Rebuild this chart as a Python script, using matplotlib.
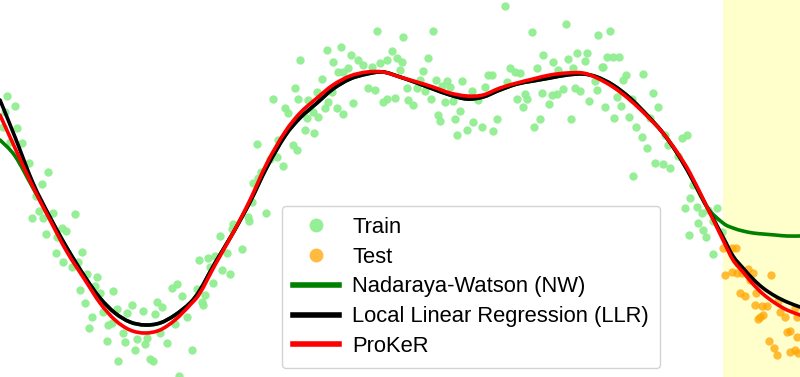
import numpy as np
import matplotlib
matplotlib.use("Agg")
import matplotlib.pyplot as plt
from matplotlib.path import Path
from matplotlib.patches import PathPatch
from matplotlib.lines import Line2D

plt.rcParams['font.family'] = ['Liberation Sans', 'DejaVu Sans']

# ---- data ----
train_x = [0.7,1.5,0.5,1.7,0.3,2.2,1.0,2.9,4.8,4.2,3.6,3.9,3.2,4.3,5.3,7.5,4.6,6.2,6.6,5.7,5.6,6.3,8.2,7.2,7.8,8.7,9.7,9.5,8.0,8.5,9.2,8.9,
           10.0,11.3,10.3,11.7,12.7,13.2,14.3,15.7,16.2,15.5,17.2,17.7,18.2,18.7,10.8,11.2,10.7,12.5,12.3,13.7,14.7,14.5,13.5,16.0,16.7,17.5,11.8,15.0,15.3,17.9,19.2,19.7,19.9,
           30.0,29.5,29.8,27.3,28.5,28.8,25.7,27.8,29.3,29.7,27.7,28.3,27.0,26.1,25.3,25.8,25.2,26.6,24.8,24.9,23.3,23.2,22.0,24.2,22.7,21.5,20.8,21.0,22.2,23.0,21.3,20.5,20.2,20.3,
           32.7,34.1,33.3,35.1,37.7,35.8,36.3,37.2,38.0,38.7,39.2,39.7,33.8,34.3,34.8,32.2,31.7,30.8,31.3,32.8,33.2,30.7,31.8,32.5,33.7,34.3,35.3,36.8,37.5,38.3,38.7,39.5,30.5,31.4,
           40.3,43.3,40.2,40.0,42.8,42.3,40.7,40.8,41.3,41.7,42.0,42.5,43.1,43.6,44.2,44.7,45.0,44.5,45.3,46.2,43.8,44.0,45.5,46.0,45.7,46.7,47.3,47.2,47.8,48.2,48.5,48.8,49.2,49.3,49.7,
           50.5,53.2,56.6,59.8,51.0,51.5,52.0,50.7,53.7,54.3,55.3,55.8,56.8,57.7,58.7,58.5,57.3,51.7,52.5,52.7,52.3,54.2,55.2,55.7,56.3,57.5,58.0,58.9,54.9,54.0,53.4,57.1,59.5,59.7,
           60.2,61.0,60.7,61.3,61.9,60.3,62.6,62.3,64.3,61.7,60.5,62.1,63.2,65.3,65.8,61.4,62.9,63.6,65.0,64.2,64.7,66.5,66.8,68.2,68.7,67.8,65.5,66.3,67.0,63.3,69.3,68.5,69.0,69.7,69.8,68.9,
           70.2,70.3,70.6,70.8,71.3,72.2,71.3,71.7]
train_y = [-9.6,-10.6,-11.2,-12.8,-12.7,-14.3,-14.2,-16.3,-17.2,-18.4,-19.6,-21.1,-21.8,-21.8,-21.3,-21.4,-23.4,-22.8,-23.1,-23.7,-25.3,-26.2,-25.2,-26.7,-26.2,-27.4,-27.7,-28.6,-29.0,-30.3,-31.7,-32.8,
           -29.3,-29.1,-31.2,-30.9,-31.3,-30.5,-31.1,-30.2,-30.7,-31.4,-28.8,-28.4,-29.6,-31.7,-32.5,-32.3,-34.1,-34.2,-33.3,-33.9,-33.8,-34.4,-35.0,-33.3,-34.3,-32.4,-36.1,-35.9,-36.1,-37.6,-35.0,-28.9,-26.0,
           -6.0,-8.8,-9.9,-9.9,-10.8,-11.3,-14.4,-14.0,-14.5,-15.0,-15.7,-16.6,-15.9,-17.2,-18.3,-17.8,-20.2,-21.3,-21.7,-22.1,-22.4,-22.9,-23.6,-24.9,-25.3,-25.6,-25.8,-26.7,-27.0,-27.4,-28.3,-29.5,-30.2,-30.5,
           -5.0,-4.7,-6.2,-5.5,-3.1,-6.0,-6.5,-6.7,-6.3,-6.0,-5.1,-5.8,-7.2,-7.2,-6.8,-7.9,-9.2,-10.0,-11.2,-10.2,-9.2,-11.8,-11.7,-10.8,-10.8,-11.4,-10.3,-8.8,-9.0,-10.2,-9.9,-9.8,-13.0,-13.3,
           -3.7,-3.1,-6.2,-7.0,-5.8,-7.1,-8.8,-10.0,-10.5,-8.8,-8.0,-9.1,-9.9,-8.0,-8.6,-8.1,-8.7,-10.2,-10.1,-8.1,-11.5,-12.1,-11.9,-11.1,-13.5,-13.0,-12.2,-9.1,-10.0,-12.7,-8.7,-7.5,-7.5,-13.1,-11.9,
           -0.6,-3.2,-2.4,-3.5,-6.8,-7.2,-7.3,-8.2,-6.8,-5.5,-6.2,-7.0,-5.9,-5.3,-5.3,-6.1,-6.8,-9.9,-9.4,-9.9,-10.7,-9.3,-9.5,-9.4,-8.9,-8.8,-9.1,-10.1,-10.4,-11.9,-12.7,-11.9,-8.1,-9.0,
           -6.7,-3.1,-5.7,-5.7,-5.7,-6.7,-7.5,-8.0,-7.4,-9.7,-10.7,-10.6,-9.9,-9.3,-10.7,-11.8,-11.7,-12.7,-11.8,-13.7,-14.8,-13.5,-14.5,-13.8,-13.5,-15.6,-16.3,-16.4,-16.8,-17.6,-18.5,-20.8,-19.8,-20.7,-22.3,-23.5,
           -21.3,-23.0,-23.7,-21.0,-22.1,-23.2,-25.4,-20.8]

test_x = [72.3,73.2,73.6,72.5,73.2,73.7,74.2,74.8,75.3,75.0,77.1,74.0,74.5,75.6,75.5,76.2,76.7,77.8,78.0,78.5,76.0,76.3,75.8,79.5,79.7,78.7,79.0,79.7,76.9,77.4,77.7,79.0,79.5,79.8]
test_y = [-24.8,-24.8,-24.8,-27.5,-27.2,-27.3,-27.3,-26.9,-27.3,-28.0,-27.5,-29.3,-29.6,-29.3,-30.5,-30.6,-30.6,-30.1,-31.2,-31.7,-31.7,-31.5,-31.9,-30.8,-31.7,-33.2,-33.1,-33.7,-34.1,-34.8,-35.5,-35.2,-35.0,-35.3]

curve_x = [0,1.5,3.3,5.0,6.7,8.5,10.0,11.5,13.0,14.5,16.0,17.5,19.0,20.0,21.5,23.3,25.0,26.7,28.5,30.0,31.7,33.3,35.0,36.7,38.3,40.0,
           41.7,43.3,45.0,46.7,48.3,50.0,51.7,53.3,55.0,56.7,58.3,59.7,61.3,63.0,64.7,66.3,67.7,69.0,70.7,72.3,73.3,74.3,75.3,76.3,77.5,78.7,80.0]
proker_y = [-11.5,-14.8,-18.7,-22.0,-25.2,-28.0,-30.3,-32.0,-33.0,-33.3,-33.0,-32.0,-30.5,-29.3,-26.5,-23.3,-20.0,-16.3,-13.2,-11.3,-9.8,-8.5,-7.6,-7.2,-7.2,-7.7,
            -8.2,-8.7,-9.3,-9.6,-9.5,-8.8,-8.3,-7.9,-7.5,-7.3,-7.3,-7.8,-8.7,-10.0,-11.6,-13.3,-15.2,-17.3,-20.7,-24.0,-26.0,-27.2,-28.4,-29.4,-30.3,-31.0,-31.5]
llr_y = [-10.0,-13.7,-18.3,-21.7,-24.8,-27.7,-29.8,-31.3,-32.2,-32.5,-32.3,-31.5,-30.3,-29.0,-26.3,-23.3,-20.2,-16.7,-13.6,-11.8,-10.3,-8.9,-7.9,-7.4,-7.2,-7.7,
         -8.3,-8.9,-9.5,-9.9,-9.7,-9.0,-8.4,-8.1,-7.8,-7.5,-7.4,-7.7,-8.5,-9.8,-11.5,-13.3,-15.3,-17.5,-20.7,-23.7,-25.6,-26.8,-27.9,-28.8,-29.6,-30.2,-30.7]
nw_y = [-14.0,-15.6,-18.8,-21.8,-24.8,-27.7,-29.8,-31.3,-32.2,-32.5,-32.3,-31.5,-30.3,-29.0,-26.3,-23.3,-20.2,-16.7,-13.6,-11.8,-10.3,-8.9,-7.9,-7.4,-7.2,-7.7,
        -8.3,-8.9,-9.5,-9.9,-9.7,-9.0,-8.4,-8.1,-7.8,-7.5,-7.4,-7.7,-8.5,-9.8,-11.5,-13.3,-15.3,-17.5,-20.7,-22.3,-22.8,-23.1,-23.3,-23.4,-23.5,-23.6,-23.6]

test_region = [72.3, 80.0]
labels = ['Train', 'Test', 'Nadaraya-Watson (NW)', 'Local Linear Regression (LLR)', 'ProKeR']
colors = {'train': '#90EE90', 'test': '#FFA500', 'nw': 'green', 'llr': 'black', 'proker': 'red'}


def smooth_path(xs, ys):
    """Bezier path through the read points (Catmull-Rom tangents)."""
    p = np.column_stack([xs, ys]).astype(float)
    n = len(p)
    verts = [p[0]]
    codes = [Path.MOVETO]
    for i in range(n - 1):
        p0 = p[i - 1] if i > 0 else p[i]
        p1 = p[i]
        p2 = p[i + 1]
        p3 = p[i + 2] if i + 2 < n else p[i + 1]
        c1 = p1 + (p2 - p0) / 6.0
        c2 = p2 - (p3 - p1) / 6.0
        verts += [c1, c2, p2]
        codes += [Path.CURVE4] * 3
    return Path(verts, codes)


fig = plt.figure(figsize=(8.0, 3.77), dpi=100)
ax = fig.add_axes([0, 0, 1, 1])
ax.axvspan(test_region[0], test_region[1], color='#FFFFCC', zorder=0, lw=0)
ax.scatter(train_x, train_y, s=36, color=colors['train'], alpha=0.95, lw=0, zorder=2)
ax.scatter(test_x, test_y, s=36, color=colors['test'], alpha=0.75, lw=0, zorder=2)
for ys, key, z in [(nw_y, 'nw', 3), (llr_y, 'llr', 4), (proker_y, 'proker', 5)]:
    ax.add_patch(PathPatch(smooth_path(curve_x, ys), fill=False, edgecolor=colors[key],
                           lw=2.6, zorder=z, capstyle='round', joinstyle='round'))
ax.set_xlim(0, 80)
ax.set_ylim(-37.7, 0)
ax.axis('off')

handles = [
    Line2D([], [], ls='none', marker='o', ms=10, mec='none', mfc=colors['train'], alpha=0.95),
    Line2D([], [], ls='none', marker='o', ms=10, mec='none', mfc=colors['test'], alpha=0.75),
    Line2D([], [], color=colors['nw'], lw=4),
    Line2D([], [], color=colors['llr'], lw=4),
    Line2D([], [], color=colors['proker'], lw=4),
]
leg = ax.legend(handles, labels, loc='lower left', bbox_to_anchor=(0.3525, 0.024), borderaxespad=0,
                fontsize=15.8, handlelength=2.1, handletextpad=0.6,
                labelspacing=0.40, borderpad=0.5, framealpha=0.85, edgecolor='#cccccc')

fig.savefig('out.png', dpi=100)
